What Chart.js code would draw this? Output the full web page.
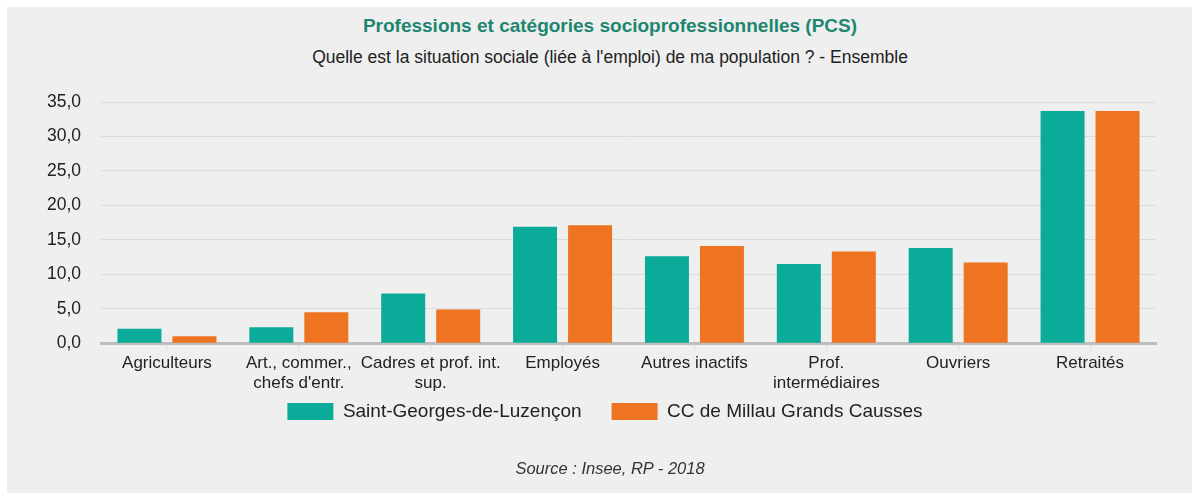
<!DOCTYPE html>
<html lang="fr">
<head>
<meta charset="utf-8">
<script src="https://cdn.jsdelivr.net/npm/chart.js@4/dist/chart.umd.min.js"></script>
<style>
  body { margin: 0; background: #fff; font-family: "Liberation Sans", Arial, sans-serif; }
  #panel { position: absolute; left: 7px; top: 7px; width: 1185px; height: 486px; background: #efefef; }
  .txt { position: absolute; left: 0; width: 1220px; text-align: center; white-space: nowrap; color: #222; }
  #title { top: 15px; font-size: 19px; line-height: 22px; font-weight: bold; color: #1e8670; }
  #subtitle { top: 47px; font-size: 17.5px; line-height: 20px; }
  #source { top: 458px; font-size: 16.5px; line-height: 20px; font-style: italic; color: #333; }
  #wrap { position: absolute; left: 0; top: 0; width: 1192px; height: 464px; }
</style>
</head>
<body>
<div id="panel"></div>
<div class="txt" id="title">Professions et catégories socioprofessionnelles (PCS)</div>
<div class="txt" id="subtitle">Quelle est la situation sociale (liée à l'emploi) de ma population ? - Ensemble</div>
<div id="wrap"><canvas id="myChart"></canvas></div>
<div class="txt" id="source">Source : Insee, RP - 2018</div>
<script>
// categories (axe x)
const categories = [
  'Agriculteurs',
  ['Art., commer.,', "chefs d'entr."],
  ['Cadres et prof. int.', 'sup.'],
  'Employés',
  'Autres inactifs',
  ['Prof.', 'intermédiaires'],
  'Ouvriers',
  'Retraités'
]

// valeurs (%)
const commune = [2.1, 2.3, 7.2, 16.9, 12.6, 11.5, 13.8, 33.7]
const intercommunalite = [1.0, 4.5, 4.9, 17.1, 14.1, 13.3, 11.7, 33.7]

const seriesNames = ['Saint-Georges-de-Luzençon', 'CC de Millau Grands Causses']
const yTicks = [0, 5, 10, 15, 20, 25, 30, 35]

const fontFamily = '"Liberation Sans", Arial, sans-serif'

// remonte la légende plus près des libellés de l'axe x
// (le padding de 30 sert à l'espacement horizontal des items)
const legendShift = {
  id: 'legendShift',
  afterLayout(chart) {
    const lg = chart.legend
    if (!lg) return
    lg.top -= 26
    lg.bottom -= 26
    lg.left += 4
    lg.right += 4
    if (lg.legendHitBoxes) lg.legendHitBoxes.forEach(b => { b.top -= 26; b.left += 4 })
  }
}

function createChart() {
  const ctx = document.getElementById('myChart').getContext('2d')

  new Chart(ctx, {
    type: 'bar',
    data: {
      labels: categories,
      datasets: [
        {
          label: seriesNames[0],
          data: commune,
          backgroundColor: '#0aab98',
          categoryPercentage: 0.834,
          barPercentage: 0.8
        },
        {
          label: seriesNames[1],
          data: intercommunalite,
          backgroundColor: '#ee7421',
          categoryPercentage: 0.834,
          barPercentage: 0.8
        }
      ]
    },
    plugins: [legendShift],
    options: {
      responsive: true,
      maintainAspectRatio: false,
      animation: false,
      layout: {
        padding: { top: 102, right: 36, bottom: 7, left: 46 }
      },
      plugins: {
        tooltip: { enabled: false },
        legend: {
          position: 'bottom',
          labels: {
            boxWidth: 46,
            boxHeight: 17,
            padding: 30,
            color: '#222',
            font: { family: fontFamily, size: 19 }
          }
        }
      },
      scales: {
        x: {
          grid: {
            offset: false,
            drawOnChartArea: false,
            drawTicks: true,
            tickLength: 6,
            color: '#d6d6d6'
          },
          border: { color: '#bdbdbd', width: 3 },
          ticks: {
            color: '#222',
            padding: 4,
            maxRotation: 0,
            autoSkip: false,
            font: { family: fontFamily, size: 17, lineHeight: 1.2 }
          }
        },
        y: {
          min: 0,
          max: 35,
          afterBuildTicks: scale => {
            scale.ticks = yTicks.map(v => ({ value: v }))
          },
          afterFit: scale => {
            scale.width = 55
          },
          grid: { color: '#dcdcdc', drawTicks: false },
          border: { display: false },
          ticks: {
            color: '#222',
            padding: 20,
            font: { family: fontFamily, size: 17.5 },
            callback: v => v.toFixed(1).replace('.', ',')
          }
        }
      }
    }
  })
}

createChart()
</script>
</body>
</html>
